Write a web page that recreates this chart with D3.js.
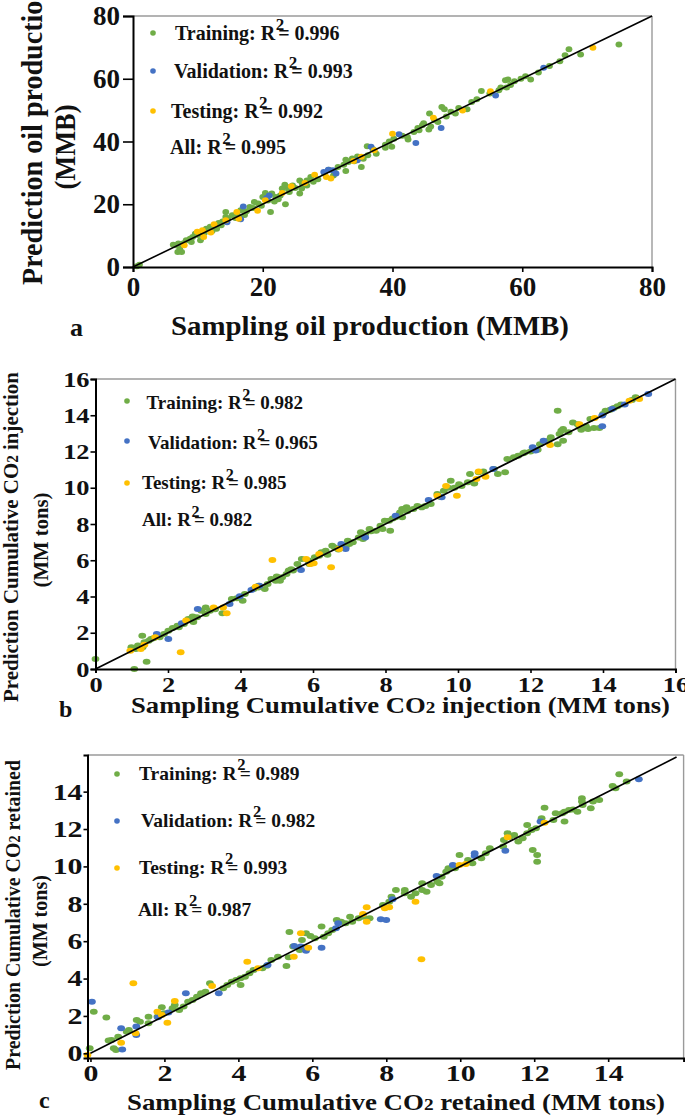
<!DOCTYPE html>
<html><head><meta charset="utf-8">
<script src="https://cdn.jsdelivr.net/npm/d3@7"></script>
<style>
body{margin:0;background:#fff}
svg{display:block}
text{font-family:"Liberation Serif","Times New Roman",serif;font-weight:bold;fill:#111}
</style>
</head><body>
<svg id="chart" width="685" height="1117"></svg>
<script>
// ---------------- DATA ----------------
const seriesNames = ["Training", "Validation", "Testing", "All"];
const seriesColors = ["#70AD47", "#4472C4", "#FFC000"];

// Panel a: oil production (MMB)
const aTicks = [0, 20, 40, 60, 80];
const aR2 = ["0.996", "0.993", "0.992", "0.995"];
const aTraining = [[74.9,70.9],[67.2,69.4],[66.6,67.5],[69.0,67.7],[65.8,65.6],[64.2,64.1],[61.3,59.8],[59.8,60.0],[58.8,59.2],[57.8,59.8],[57.4,59.5],[57.6,57.2],[56.7,57.2],[56.4,56.3],[53.7,56.1],[52.2,52.6],[51.5,50.3],[50.2,50.7],[49.7,48.9],[48.3,48.0],[47.6,51.0],[48.0,50.3],[47.0,46.2],[45.9,44.8],[45.7,48.9],[44.6,45.2],[44.1,43.6],[43.9,44.3],[43.3,43.0],[45.6,43.8],[42.4,40.6],[42.3,41.4],[40.2,40.9],[39.9,38.3],[38.9,39.0],[38.9,38.0],[36.1,38.5],[37.5,36.1],[36.2,35.6],[35.2,31.9],[35.5,34.5],[34.1,33.7],[32.8,34.2],[33.2,33.5],[32.5,32.6],[32.8,30.6],[31.6,31.9],[30.9,29.2],[27.4,28.7],[26.8,27.6],[26.1,26.6],[25.7,27.6],[26.8,26.0],[25.7,23.4],[23.7,25.5],[23.4,26.2],[23.0,25.0],[24.1,23.9],[22.7,22.8],[23.5,20.0],[22.0,22.3],[21.4,23.4],[21.2,17.5],[20.4,23.6],[20.0,22.3],[19.3,20.2],[18.7,20.7],[18.0,19.1],[16.6,18.1],[16.0,17.0],[15.3,16.5],[14.3,17.5],[14.6,15.4],[14.3,15.9],[13.6,13.3],[12.9,12.2],[12.6,13.3],[11.9,12.8],[11.3,12.2],[10.4,10.6],[10.4,8.5],[9.6,10.6],[9.2,9.6],[8.2,8.5],[7.2,5.8],[6.9,4.8],[6.5,6.9],[6.2,7.1],[7.5,4.8],[1.0,0.7],[0.6,0.2],[28.5,28.0],[29.5,29.8],[31.0,30.5],[33.8,34.6],[27.8,27.2],[25.0,25.2],[24.6,26.0],[22.4,21.6],[21.8,20.9],[19.8,19.5],[17.5,17.8],[17.2,16.6],[15.8,15.6],[13.2,14.0],[12.2,11.5],[11.0,10.8],[8.8,9.0],[7.8,7.6],[37.0,37.5],[41.5,41.8],[44.8,45.8],[46.5,46.8],[49.0,49.5],[53.0,53.5],[55.0,55.3],[58.2,58.0],[60.5,60.8],[62.5,62.0],[39.5,40.0],[34.6,35.2],[30.2,31.0],[26.0,25.0],[24.0,24.5],[20.8,21.2],[18.5,18.8],[16.5,16.0],[13.8,14.5],[10.0,10.2],[9.0,8.0],[7.0,7.5]];
const aValidation = [[63.3,63.5],[55.9,54.7],[47.5,44.3],[43.6,39.5],[41.0,42.3],[36.7,38.3],[31.3,29.8],[30.1,31.0],[29.4,30.3],[21.0,22.8],[17.0,19.3],[16.6,15.2],[14.5,14.3],[34.6,34.0],[20.6,22.0],[30.8,30.8]];
const aTesting = [[70.9,69.9],[55.1,56.0],[50.8,49.9],[46.3,47.6],[40.0,42.5],[37.2,37.2],[35.2,35.1],[34.0,33.8],[30.5,28.2],[29.8,28.7],[28.0,29.4],[24.4,25.7],[23.0,23.6],[20.4,21.3],[19.2,17.9],[16.0,17.5],[16.3,15.4],[14.3,14.9],[12.5,13.6],[10.7,11.7],[10.9,9.6],[9.9,11.2],[7.9,6.9],[26.5,26.8],[12.0,11.0]];

// Panel b: cumulative CO2 injection (MM tons)
const bTicks = [0, 2, 4, 6, 8, 10, 12, 14, 16];
const bR2 = ["0.982", "0.965", "0.985", "0.982"];
const bTraining = [[14.9,15.0],[14.8,14.84],[14.5,14.6],[14.4,14.5],[14.3,14.4],[14.2,14.3],[14.07,14.25],[14.0,14.07],[13.65,13.8],[13.59,13.24],[13.53,13.4],[13.4,13.2],[13.35,13.37],[13.3,13.5],[13.17,13.6],[12.75,14.25],[13.05,13.06],[12.9,13.24],[12.85,13.15],[12.8,12.97],[12.75,12.4],[12.9,12.6],[12.56,12.78],[12.5,12.6],[12.26,12.4],[11.84,11.95],[11.66,11.77],[11.54,11.68],[11.36,11.59],[11.3,10.85],[11.1,10.76],[10.99,11.03],[10.57,10.85],[10.45,10.24],[10.33,10.76],[10.27,10.3],[10.03,10.2],[9.9,10.0],[9.8,10.39],[9.73,10.0],[9.61,9.84],[9.43,9.66],[9.25,9.1],[9.0,8.92],[8.88,9.0],[8.77,8.83],[8.58,8.92],[8.46,8.83],[8.4,8.64],[8.46,8.37],[8.28,8.37],[8.1,8.18],[7.98,8.18],[8.13,7.63],[7.92,7.72],[7.86,7.91],[7.74,7.63],[7.56,7.72],[7.44,7.45],[7.38,7.17],[7.32,7.54],[7.26,7.26],[7.0,6.9],[6.96,7.08],[6.9,6.71],[6.6,6.71],[6.53,6.8],[6.35,6.53],[6.23,6.44],[6.17,6.25],[6.05,6.16],[5.87,5.98],[5.69,6.07],[5.57,5.79],[5.45,5.43],[5.33,5.43],[5.27,5.24],[5.15,5.06],[5.09,4.87],[4.97,4.87],[4.85,4.97],[4.75,4.69],[4.67,4.41],[4.49,4.5],[4.36,4.41],[4.12,4.14],[4.06,3.77],[3.76,3.86],[3.5,3.07],[3.16,3.22],[3.04,3.4],[3.04,3.03],[2.92,3.22],[2.8,2.85],[2.68,2.89],[2.56,2.76],[2.44,2.48],[2.26,2.39],[2.13,2.26],[2.01,2.11],[1.89,1.93],[1.77,1.75],[1.53,1.66],[1.47,1.56],[1.29,1.84],[1.35,1.47],[1.17,1.29],[1.11,1.1],[0.99,1.2],[1.41,0.4],[1.07,0.0],[0.0,0.55],[13.75,13.3],[13.9,13.3],[12.2,12.1],[12.0,12.0],[11.8,11.9],[9.1,9.0],[8.6,8.7],[8.2,8.3],[7.6,7.6],[7.1,7.0],[6.7,6.6],[5.4,5.5],[5.0,5.1],[4.5,4.6],[3.9,3.9],[3.3,3.3],[2.7,2.6],[2.3,2.3],[1.6,1.7],[1.3,1.2],[6.4,6.3],[5.9,5.8],[10.7,10.9],[10.1,10.1],[9.5,9.5]];
const bValidation = [[15.25,15.17],[14.6,14.6],[14.25,14.35],[13.98,13.39],[13.98,13.98],[12.36,12.6],[12.14,12.05],[12.06,12.23],[10.97,11.03],[9.55,9.47],[9.19,9.32],[8.28,8.46],[7.44,7.26],[6.9,6.62],[6.78,6.9],[5.67,5.46],[4.52,4.6],[4.3,4.36],[3.98,4.01],[3.7,3.59],[2.82,3.31],[2.38,2.52],[2.01,1.66],[1.69,1.93]];
const bTesting = [[15.0,14.9],[14.73,14.8],[13.77,13.85],[13.35,13.5],[12.54,12.36],[10.76,10.61],[10.57,10.9],[10.51,10.48],[9.67,10.1],[9.97,9.56],[9.43,9.56],[6.72,6.62],[6.5,5.61],[6.17,6.35],[6.02,5.83],[5.93,5.79],[5.81,6.07],[4.88,6.01],[4.42,4.54],[3.62,3.07],[3.52,3.4],[3.26,3.4],[2.5,2.67],[1.65,1.75],[1.35,1.34],[1.25,1.1],[0.96,1.01],[2.35,0.92]];

// Panel c: cumulative CO2 retained (MM tons)
const cTicks = [0, 2, 4, 6, 8, 10, 12, 14];
const cR2 = ["0.989", "0.982", "0.993", "0.987"];
const cTraining = [[14.3,14.93],[14.5,14.54],[14.12,14.3],[14.2,14.18],[13.76,13.55],[13.59,13.47],[13.29,13.64],[13.29,13.47],[13.31,13.29],[13.53,13.11],[13.17,12.93],[13.05,13.05],[12.94,13.02],[12.82,12.93],[12.76,12.84],[12.82,12.4],[12.58,12.84],[12.52,12.48],[12.28,13.14],[12.2,12.57],[12.05,12.04],[11.93,11.95],[11.81,12.22],[11.81,11.77],[11.69,11.5],[11.57,11.33],[11.46,11.68],[11.34,11.59],[11.28,11.77],[11.18,11.41],[11.16,11.06],[11.96,10.88],[12.08,10.61],[12.08,10.25],[10.8,10.97],[10.69,10.7],[10.57,10.43],[10.33,10.17],[10.21,10.34],[9.98,10.61],[9.86,9.9],[9.68,9.9],[9.62,9.72],[9.5,9.45],[9.44,9.1],[9.38,9.18],[9.21,9.0],[8.97,9.1],[8.97,8.74],[9.09,8.65],[8.79,8.56],[8.67,8.38],[8.5,8.74],[8.5,8.56],[8.26,8.74],[8.14,8.38],[8.08,8.11],[7.91,7.94],[7.55,7.22],[7.37,7.31],[7.25,7.22],[7.08,7.04],[7.02,7.31],[6.9,6.96],[6.78,7.04],[6.66,7.13],[6.54,6.6],[6.43,6.42],[6.31,6.24],[6.25,6.78],[6.07,6.15],[5.95,6.28],[5.83,6.42],[5.72,6.06],[5.66,5.53],[5.48,5.71],[5.38,6.49],[5.36,5.14],[5.3,4.67],[5.07,5.17],[4.89,4.99],[4.77,4.69],[4.65,4.55],[4.41,4.46],[4.3,4.28],[4.18,4.1],[4.06,4.01],[3.94,3.92],[3.82,3.83],[4.06,3.66],[3.7,3.66],[3.59,3.48],[3.23,3.75],[3.11,3.3],[2.99,3.21],[2.88,3.03],[2.76,2.85],[2.64,2.76],[2.52,2.5],[2.28,2.59],[2.4,2.32],[2.22,2.41],[1.99,2.14],[1.93,2.46],[1.81,1.96],[1.57,1.96],[1.57,1.61],[1.34,1.69],[1.25,1.78],[1.04,1.25],[0.98,1.16],[0.75,0.89],[0.69,0.18],[0.63,0.27],[0.57,0.71],[0.49,0.68],[0.43,1.91],[0.09,2.23],[-0.02,0.27]];
const cValidation = [[14.83,14.66],[12.17,12.4],[11.22,10.84],[10.39,10.56],[10.39,10.7],[9.8,10.08],[9.36,9.49],[8.17,8.24],[8.0,7.13],[7.85,7.17],[6.7,6.96],[6.64,6.69],[6.25,5.65],[5.83,5.49],[5.69,5.71],[5.51,5.74],[4.79,4.73],[3.47,3.21],[2.58,3.21],[2.11,2.18],[1.83,1.93],[1.24,1.43],[1.24,0.98],[0.83,1.34],[0.86,0.21],[0.04,2.76]];
const cTesting = [[12.28,12.34],[11.28,11.56],[10.15,10.13],[9.98,10.08],[8.79,8.11],[8.08,7.81],[7.96,7.76],[7.47,7.81],[7.47,7.04],[7.37,7.45],[5.89,5.65],[5.69,6.42],[5.5,5.17],[4.53,4.55],[4.24,4.9],[3.29,3.6],[2.28,2.8],[2.08,1.64],[1.93,2.05],[1.81,2.23],[1.22,1.07],[1.16,3.75],[0.83,0.57],[-0.08,-0.09],[8.95,5.03]];

// ---------------- LAYOUT ----------------
const panels = [
  { letter:"a", series:[aTraining,aValidation,aTesting], ticks:aTicks, r2:aR2,
    xDomain:[0,80], yDomain:[0,80], xRange:[133,652], yRange:[267,16], diag:[0,80],
    tickFs:27, tickSx:1.0, yTickSize:10, yTickPad:3, xTickSize:5, xTickPad:5,
    rx:3.4, ry:3.0, legendDotR:2.8,
    legendDotX:153, legendDotY:[33,71,111], legendTextX:[175,174,171,170], legendBase:[40,78,118,154], legendFs:20,
    xTitle:["Sampling oil production (MMB)"], xTitleX:370, xTitleY:335, xTitleFs:28, xTitleLen:398,
    yTitle:["Prediction oil production"], yTitleX:42, yTitleY:135, yTitleFs:29, yTitleLen:300,
    yTitle2:"(MMB)", yTitle2X:75, yTitle2Y:147, yTitle2Len:85,
    letterX:70, letterY:336, letterFs:26 },
  { letter:"b", series:[bTraining,bValidation,bTesting], ticks:bTicks, r2:bR2,
    xDomain:[0,16], yDomain:[0,16], xRange:[95.5,675.5], yRange:[669,379], diag:[0,16],
    tickFs:22, tickSx:1.2, yTickSize:5, yTickPad:1, xTickSize:4, xTickPad:3,
    rx:3.9, ry:3.0, legendDotR:2.8,
    legendDotX:127, legendDotY:[401,441,483], legendTextX:[146.6,148,142,142], legendBase:[409,449,489,526], legendFs:19,
    xTitle:["Sampling Cumulative CO","2"," injection (MM tons)"], xTitleX:400.5, xTitleY:713, xTitleFs:24, xTitleLen:539,
    yTitle:["Prediction Cumulative CO","2"," injection"], yTitleX:18, yTitleY:537, yTitleFs:22, yTitleLen:330,
    yTitle2:"(MM tons)", yTitle2X:48, yTitle2Y:540, yTitle2Len:95,
    letterX:59, letterY:717, letterFs:24 },
  { letter:"c", series:[cTraining,cValidation,cTesting], ticks:cTicks, r2:cR2,
    xDomain:[-0.08,16.04], yDomain:[-0.25,15.96], xRange:[87.5,683.6], yRange:[1058,755], diag:[0,15.85],
    tickFs:23, tickSx:1.3, yTickSize:4, yTickPad:1, xTickSize:4, xTickPad:3,
    rx:3.9, ry:3.0, legendDotR:2.8,
    legendDotX:117, legendDotY:[774,821,868], legendTextX:[139,141,139,138], legendBase:[780,827,874,916], legendFs:19.5,
    xTitle:["Sampling Cumulative CO","2"," retained (MM tons)"], xTitleX:396, xTitleY:1110, xTitleFs:24, xTitleLen:538,
    yTitle:["Prediction Cumulative CO","2"," retained"], yTitleX:20, yTitleY:915, yTitleFs:22, yTitleLen:310,
    yTitle2:"(MM tons)", yTitle2X:47, yTitle2Y:921, yTitle2Len:92,
    letterX:39, letterY:1108, letterFs:24 }
];

const svg = d3.select("#chart");

function addRich(sel, parts) {
  parts.forEach((p, i) => {
    const ts = sel.append("tspan").text(p);
    if (i === 1) ts.attr("font-size", "0.72em");
  });
}

panels.forEach(P => {
  const g = svg.append("g");
  const x = d3.scaleLinear().domain(P.xDomain).range(P.xRange);
  const y = d3.scaleLinear().domain(P.yDomain).range(P.yRange);
  const [L, R] = P.xRange, [B, T] = P.yRange;

  // frame (top/right grey)
  g.append("line").attr("x1", L).attr("x2", R).attr("y1", T).attr("y2", T).attr("stroke", "#9a9a9a").attr("stroke-width", 1.6);
  g.append("line").attr("x1", R).attr("x2", R).attr("y1", T).attr("y2", B).attr("stroke", "#9a9a9a").attr("stroke-width", 1.4);

  // points
  P.series.forEach((data, si) => {
    g.append("g").selectAll("ellipse").data(data).join("ellipse")
      .attr("cx", d => x(d[0])).attr("cy", d => y(d[1]))
      .attr("rx", P.rx).attr("ry", P.ry)
      .attr("fill", seriesColors[si]);
  });

  // diagonal 1:1 line
  g.append("line")
    .attr("x1", x(P.diag[0])).attr("y1", y(P.diag[0]))
    .attr("x2", x(P.diag[1])).attr("y2", y(P.diag[1]))
    .attr("stroke", "#000").attr("stroke-width", 1.6);

  // axes
  const yAxis = d3.axisLeft(y).tickValues(P.ticks).tickFormat(d3.format("d"))
    .tickSizeInner(P.yTickSize).tickSizeOuter(P.yTickSize).tickPadding(P.yTickPad);
  const xAxis = d3.axisBottom(x).tickValues(P.ticks).tickFormat(d3.format("d"))
    .tickSizeInner(P.xTickSize).tickSizeOuter(P.xTickSize).tickPadding(P.xTickPad);

  const ya = g.append("g").attr("transform", `translate(${L},0)`).call(yAxis);
  const xa = g.append("g").attr("transform", `translate(0,${B})`).call(xAxis);
  [ya, xa].forEach(a => {
    a.select(".domain").attr("stroke", "#000").attr("stroke-width", 2);
    a.selectAll(".tick line").attr("stroke", "#000").attr("stroke-width", 1.6);
    a.selectAll("text").attr("font-size", P.tickFs).attr("font-family", null).attr("fill", "#111");
  });
  ya.selectAll(".tick text")
    .attr("x", -(P.yTickSize + P.yTickPad) / P.tickSx)
    .attr("transform", `scale(${P.tickSx},1)`);
  xa.selectAll(".tick text").attr("transform", `scale(${P.tickSx},1)`);

  // legend
  P.legendDotY.forEach((dy, i) => {
    g.append("circle").attr("cx", P.legendDotX).attr("cy", dy).attr("r", P.legendDotR).attr("fill", seriesColors[i]);
  });
  seriesNames.forEach((name, i) => {
    const t = g.append("text").attr("x", P.legendTextX[i]).attr("y", P.legendBase[i]).attr("font-size", P.legendFs);
    t.append("tspan").text(name + ": R");
    t.append("tspan").attr("font-size", P.legendFs * 0.85).attr("dy", -P.legendFs * 0.5).attr("dx", 0.5).text("2");
    t.append("tspan").attr("dy", P.legendFs * 0.5).attr("dx", -P.legendFs * 0.3).text("= " + P.r2[i]);
  });

  // axis titles
  const xt = g.append("text").attr("x", P.xTitleX).attr("y", P.xTitleY)
    .attr("text-anchor", "middle").attr("font-size", P.xTitleFs)
    .attr("textLength", P.xTitleLen).attr("lengthAdjust", "spacingAndGlyphs");
  addRich(xt, P.xTitle);

  const yt = g.append("text").attr("transform", `translate(${P.yTitleX},${P.yTitleY}) rotate(-90)`)
    .attr("text-anchor", "middle").attr("font-size", P.yTitleFs)
    .attr("textLength", P.yTitleLen).attr("lengthAdjust", "spacingAndGlyphs");
  addRich(yt, P.yTitle);

  g.append("text").attr("transform", `translate(${P.yTitle2X},${P.yTitle2Y}) rotate(-90)`)
    .attr("text-anchor", "middle").attr("font-size", P.yTitleFs)
    .attr("textLength", P.yTitle2Len).attr("lengthAdjust", "spacingAndGlyphs")
    .text(P.yTitle2);

  g.append("text").attr("x", P.letterX).attr("y", P.letterY).attr("font-size", P.letterFs).text(P.letter);
});
</script>
</body></html>
